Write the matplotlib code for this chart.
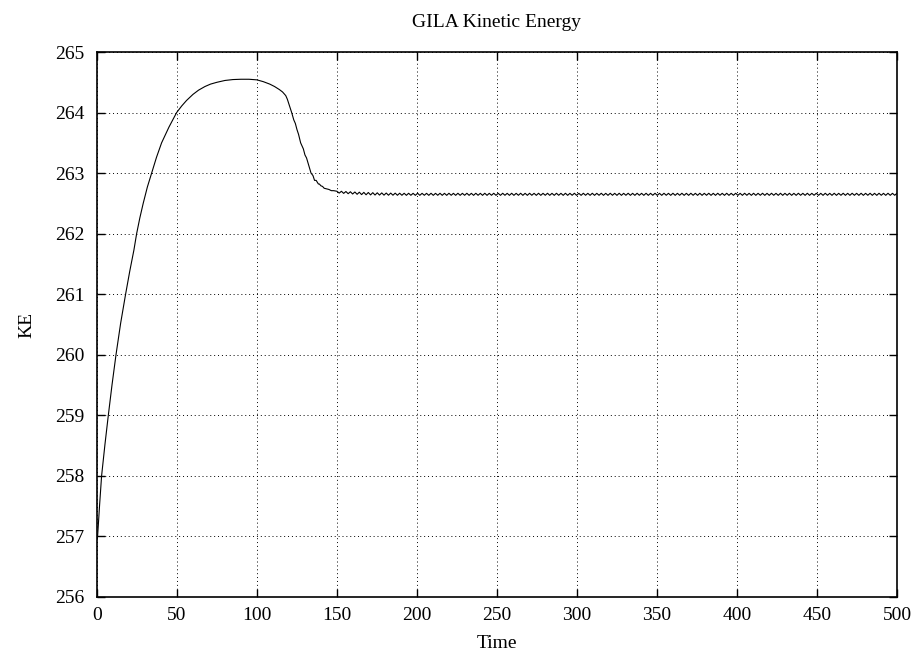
import numpy as np
import matplotlib
matplotlib.use("Agg")
import matplotlib.pyplot as plt

# kinetic energy, start-up and relaxation (t = 0..148)
t_rise = [0, 0.4, 1.6, 2.9, 5, 7.1, 9.4, 11.9, 14.8, 17.9, 20.5, 23.1, 24.8,
          26.8, 28.9, 31.5, 34.2, 37.2, 40.4, 45, 49.8, 53, 56, 60, 63.5,
          67.5, 71, 75, 80, 85, 90, 95, 100, 104, 108, 111, 114, 116, 118,
          119, 120, 121, 121.7, 123, 124, 125, 126, 127.3, 128, 129, 130, 131,
          132, 133.8, 135, 136, 137, 138.4, 139, 140, 141, 142, 143.5, 145,
          146.5, 148]
ke_rise = [256.95, 257.0, 257.5, 258.0, 258.52, 259.0, 259.5, 260.0, 260.52,
           261.0, 261.38, 261.73, 262.0, 262.26, 262.5, 262.77, 263.0, 263.26,
           263.5, 263.76, 264.0, 264.11, 264.2, 264.3, 264.37,
           264.43, 264.47, 264.5, 264.53, 264.545, 264.55, 264.55, 264.54,
           264.51, 264.47, 264.43, 264.38, 264.34, 264.28,
           264.22, 264.14, 264.06, 264.0, 263.88, 263.82, 263.72, 263.64,
           263.5, 263.46, 263.4, 263.3, 263.25, 263.16, 263.0, 262.96, 262.88,
           262.88, 262.82, 262.82, 262.79, 262.78, 262.75, 262.74, 262.73,
           262.71, 262.71]

# steady ringing after t = 150, sampled every half wave
ke_tail = [
    262.700, 262.670, 262.700, 262.665, 262.696, 262.660, 262.692, 262.655, 262.688, 262.650,
    262.685, 262.645, 262.682, 262.642, 262.680, 262.640, 262.677, 262.638, 262.675, 262.637,
    262.673, 262.636, 262.671, 262.635, 262.670, 262.635, 262.669, 262.634, 262.668, 262.634,
    262.667, 262.633, 262.667, 262.634, 262.666, 262.633, 262.667, 262.633, 262.666, 262.634,
    262.666, 262.633, 262.667, 262.633, 262.666, 262.634, 262.667, 262.633, 262.666, 262.633,
    262.667, 262.634, 262.666, 262.633, 262.667, 262.633, 262.666, 262.634, 262.667, 262.633,
    262.666, 262.633, 262.667, 262.634, 262.666, 262.633, 262.667, 262.633, 262.666, 262.634,
    262.667, 262.633, 262.666, 262.633, 262.667, 262.634, 262.666, 262.633, 262.667, 262.633,
    262.666, 262.634, 262.667, 262.633, 262.666, 262.633, 262.667, 262.634, 262.666, 262.633,
    262.667, 262.633, 262.666, 262.634, 262.667, 262.633, 262.666, 262.633, 262.667, 262.634,
    262.666, 262.633, 262.667, 262.633, 262.666, 262.634, 262.667, 262.633, 262.666, 262.633,
    262.667, 262.634, 262.666, 262.633, 262.667, 262.633, 262.666, 262.634, 262.667, 262.633,
    262.666, 262.633, 262.667, 262.634, 262.666, 262.633, 262.667, 262.633, 262.666, 262.634,
    262.667, 262.633, 262.666, 262.633, 262.667, 262.634, 262.666, 262.633, 262.667, 262.633,
    262.666, 262.634, 262.667, 262.633, 262.666, 262.633, 262.667, 262.634, 262.666, 262.633,
    262.667, 262.633, 262.666, 262.634, 262.667, 262.633, 262.666, 262.633, 262.667, 262.634,
    262.666, 262.633, 262.667, 262.633, 262.666, 262.634, 262.667, 262.633, 262.666, 262.633,
    262.667, 262.634, 262.666, 262.633, 262.667, 262.633, 262.666, 262.634, 262.667, 262.633,
    262.666, 262.633, 262.667, 262.634, 262.666, 262.633, 262.667, 262.633, 262.666, 262.634,
    262.667, 262.633, 262.666, 262.633, 262.667, 262.634, 262.666, 262.633, 262.667, 262.633,
    262.666, 262.634, 262.667, 262.633, 262.666, 262.633, 262.667, 262.634, 262.666, 262.633,
    262.667, 262.633, 262.666, 262.634, 262.667, 262.633, 262.666, 262.633, 262.667, 262.634,
    262.666, 262.633, 262.667, 262.633, 262.666, 262.634, 262.667, 262.633, 262.666, 262.633,
    262.667, 262.634, 262.666, 262.633, 262.667, 262.633, 262.666, 262.634, 262.667, 262.633,
    262.666, 262.633, 262.667, 262.634, 262.666, 262.633, 262.667, 262.633, 262.666, 262.634,
    262.667,
]
t_tail = np.linspace(150, 500, len(ke_tail))

t = np.concatenate([t_rise, t_tail])
ke = np.concatenate([ke_rise, ke_tail])

plt.rcParams['font.family'] = ['Liberation Serif', 'DejaVu Serif']
plt.rcParams['font.size'] = 14

fig = plt.figure(figsize=(9.19, 6.6), dpi=100)
ax = fig.add_axes([0.1055, 0.0955, 0.8705, 0.8257])

ax.plot(t, ke, color='black', linewidth=0.8)

ax.set_xlim(0, 500)
ax.set_ylim(256, 265)
ax.set_xticks(np.arange(0, 501, 50))
ax.set_yticks(np.arange(256, 266, 1))

ax.grid(True, color='black', linestyle=(0, (1, 3)), linewidth=0.7)
ax.tick_params(direction='in', length=6, width=1, top=True, right=True,
               labelsize=14)
ax.tick_params(axis='y', pad=9)
ax.tick_params(axis='x', pad=7)
for s in ax.spines.values():
    s.set_linewidth(1.2)

ax.set_title("GILA Kinetic Energy", fontsize=14, pad=18)
ax.set_xlabel("Time", fontsize=14, labelpad=8)
ax.set_ylabel("KE", fontsize=14, labelpad=14)

fig.savefig("out.png", dpi=100)
